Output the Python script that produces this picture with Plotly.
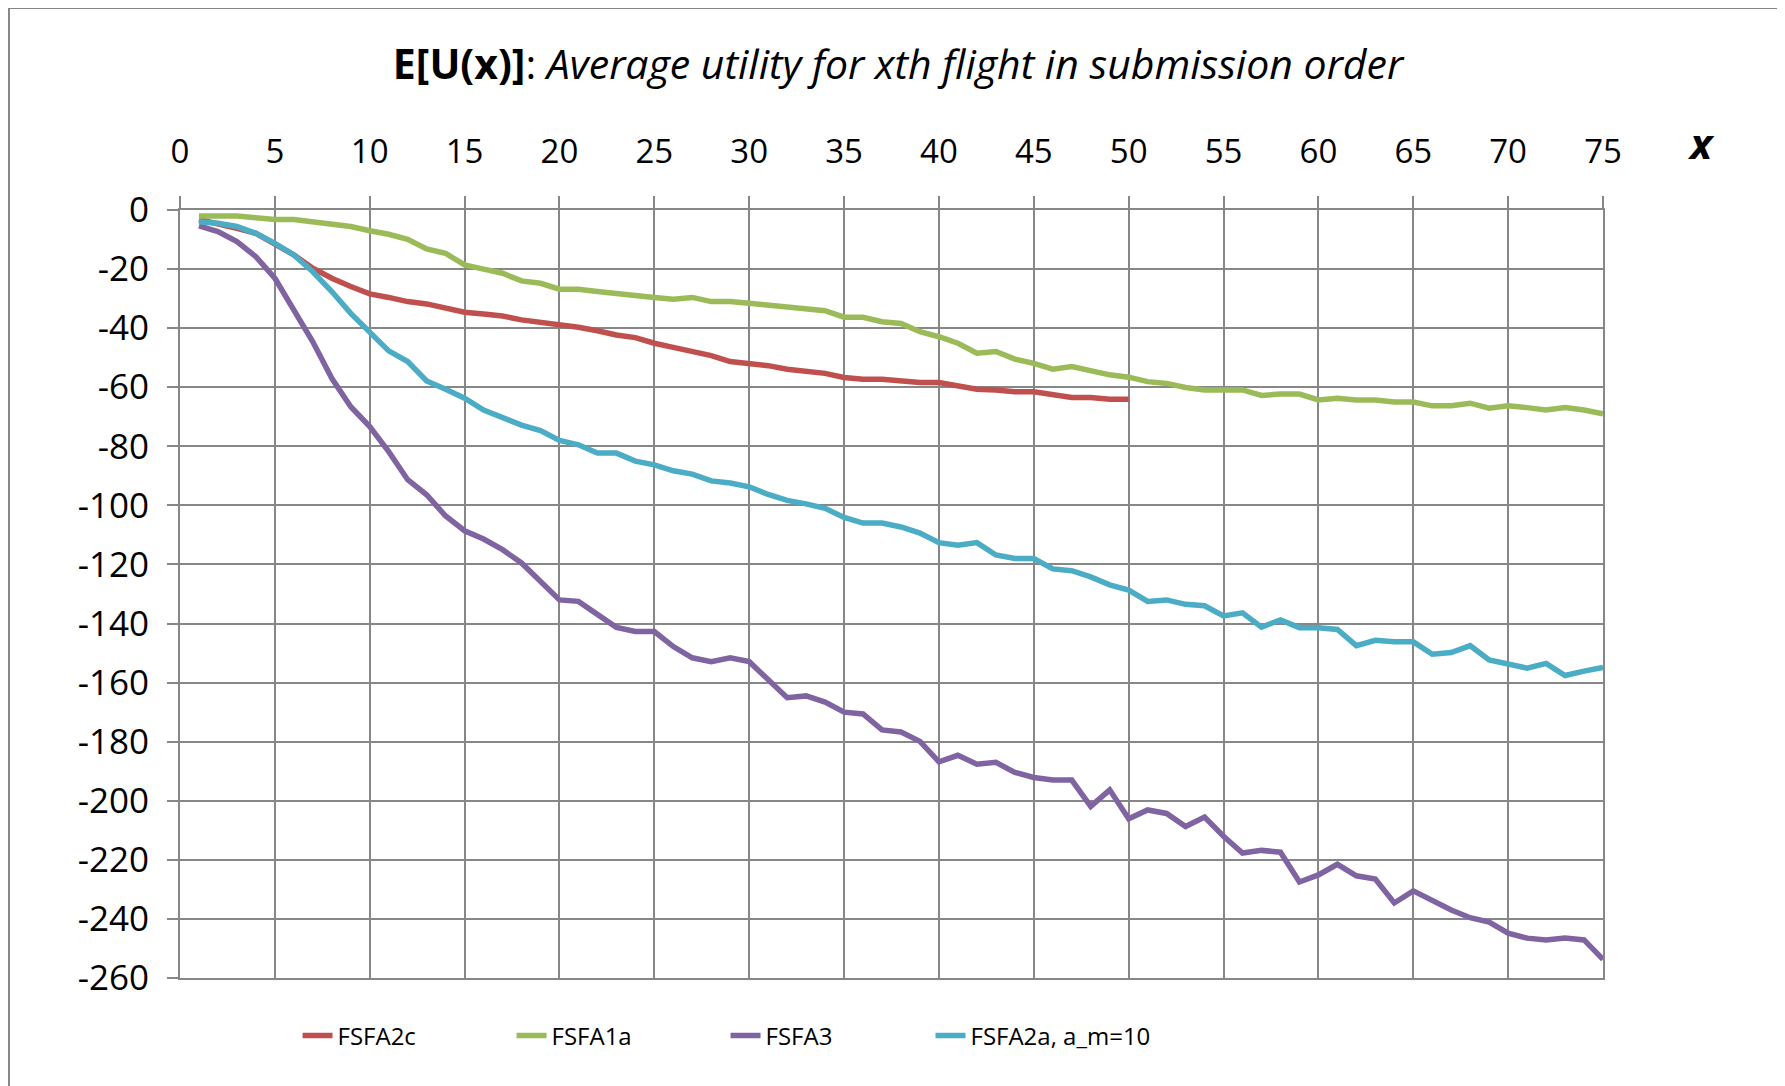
import plotly.graph_objects as go

# 提交順序 x = 1..75
x_all = list(range(1, 76))
x_2c = list(range(1, 51))

x_ticks = list(range(0, 80, 5))
y_ticks = list(range(0, -280, -20))
y_labels = ["0", "-20", "-40", "-60", "-80", "-100", "-120", "-140",
            "-160", "-180", "-200", "-220", "-240", "-260"]

fsfa2c = [-3.2, -4.5, -6.2, -7.9, -11.3, -15.2, -19.7, -23.1, -25.9, -28.4,
          -29.6, -31.0, -31.8, -33.3, -34.6, -35.2, -35.9, -37.2, -38.0, -39.1,
          -39.7, -40.9, -42.3, -43.2, -45.1, -46.5, -47.7, -49.3, -51.3, -51.9,
          -52.7, -53.9, -54.7, -55.3, -56.7, -57.3, -57.3, -57.9, -58.4, -58.4,
          -59.4, -60.7, -60.9, -61.5, -61.5, -62.3, -63.5, -63.5, -64.1, -64.1]

fsfa1a = [-2.0, -2.0, -2.0, -2.6, -3.2, -3.2, -4.0, -4.5, -5.6, -7.0,
          -8.2, -9.9, -13.2, -14.7, -18.6, -20.0, -21.4, -24.0, -24.8, -26.8,
          -26.8, -27.6, -28.4, -29.1, -29.6, -30.2, -29.6, -31.0, -31.0, -31.6,
          -32.3, -32.7, -33.3, -34.1, -36.3, -36.3, -37.8, -38.4, -41.2, -42.9,
          -45.1, -48.5, -47.9, -50.5, -51.9, -53.9, -53.0, -54.4, -55.8, -56.6,
          -58.1, -58.7, -60.1, -60.9, -60.9, -60.9, -62.8, -62.3, -62.3, -64.3,
          -63.7, -64.3, -64.3, -65.0, -65.0, -66.3, -66.3, -65.4, -67.1, -66.3,
          -66.9, -67.7, -66.9, -67.7, -69.0]

fsfa3 = [-5.4, -7.3, -10.7, -15.8, -23.1, -33.8, -44.6, -57.0, -66.6, -73.3,
         -81.8, -91.3, -96.4, -103.6, -108.6, -111.4, -115.0, -119.5, -125.7, -132.0,
         -132.5, -137.1, -141.3, -142.7, -142.7, -147.8, -151.6, -152.9, -151.6, -152.9,
         -158.9, -165.1, -164.5, -166.6, -170.0, -170.6, -176.0, -176.7, -179.9, -186.8,
         -184.6, -187.6, -187.0, -190.4, -192.1, -193.0, -193.0, -201.9, -196.3, -206.1,
         -203.1, -204.3, -208.7, -205.5, -212.0, -217.7, -216.8, -217.4, -227.5, -225.1,
         -221.5, -225.4, -226.5, -234.6, -230.5, -234.0, -237.0, -239.6, -241.1, -244.8,
         -246.5, -247.1, -246.5, -247.1, -253.7]

fsfa2a = [-4.0, -4.5, -5.6, -7.9, -11.3, -15.2, -20.9, -27.6, -35.0, -41.2,
          -47.7, -51.3, -57.9, -60.7, -63.7, -67.7, -70.3, -72.8, -74.7, -78.0,
          -79.5, -82.3, -82.3, -85.0, -86.3, -88.3, -89.4, -91.7, -92.4, -93.7,
          -96.3, -98.3, -99.5, -101.0, -104.1, -106.0, -106.0, -107.3, -109.4, -112.6,
          -113.5, -112.6, -116.8, -118.0, -118.0, -121.5, -122.1, -124.2, -126.9, -128.7,
          -132.5, -132.0, -133.5, -134.0, -137.4, -136.4, -141.2, -138.8, -141.4, -141.4,
          -142.0, -147.5, -145.7, -146.2, -146.2, -150.4, -149.8, -147.5, -152.3, -153.9,
          -155.1, -153.5, -157.6, -156.1, -154.9]

series = [
    ("FSFA2c", x_2c, fsfa2c, "#C0504D", "legend"),
    ("FSFA1a", x_all, fsfa1a, "#9BBB59", "legend"),
    ("FSFA3", x_all, fsfa3, "#8064A2", "legend"),
    ("FSFA2a, a_m=10", x_all, fsfa2a, "#4BACC6", "legend2"),
]

FONT = "Open Sans"
GRID = "#878787"

fig = go.Figure()
for name, xs, ys, color, lg in series:
    fig.add_trace(go.Scatter(
        x=xs, y=ys, mode="lines", name=name, legend=lg,
        line=dict(color=color, width=5.5),
    ))

legend_style = dict(
    orientation="h", y=-0.0755, xanchor="left", yanchor="middle",
    font=dict(family=FONT, size=24, color="black"),
    itemwidth=30, bgcolor="rgba(0,0,0,0)",
)

fig.update_layout(
    width=1785, height=1086,
    margin=dict(l=172, r=190, t=202, b=116),
    paper_bgcolor="white", plot_bgcolor="white",
    font=dict(family=FONT, color="black"),
    title=dict(
        text="<b>E[U(x)]</b>: <i>Average utility for xth flight in submission order</i>",
        x=890 / 1785, y=1 - 57 / 1086, xanchor="center", yanchor="middle",
        font=dict(family=FONT, size=41, color="black"),
    ),
    legend=dict(x=0.0826, entrywidth=169, **legend_style),
    legend2=dict(x=0.5274, **legend_style),
    showlegend=True,
)

fig.update_xaxes(
    range=[0, 75], tickvals=x_ticks, side="top",
    showgrid=True, gridcolor=GRID, gridwidth=1.8,
    showline=True, linecolor=GRID, linewidth=2, mirror=True,
    ticks="outside", ticklen=12, tickwidth=2, tickcolor=GRID,
    ticklabelstandoff=20,
    tickfont=dict(family=FONT, size=33, color="black"),
    zeroline=False,
)
fig.update_yaxes(
    range=[-260, 0], tickvals=y_ticks, ticktext=y_labels,
    showgrid=True, gridcolor=GRID, gridwidth=1.8,
    showline=True, linecolor=GRID, linewidth=2, mirror=True,
    ticks="outside", ticklen=11, tickwidth=2, tickcolor=GRID,
    ticklabelstandoff=11,
    tickfont=dict(family=FONT, size=35, color="black"),
    zeroline=False,
)

# x 軸標籤
fig.add_annotation(
    text="<b><i>x</i></b>", xref="paper", yref="paper",
    x=1.0689, y=1.0885, xanchor="center", yanchor="middle", showarrow=False,
    font=dict(family=FONT, size=42, color="black"),
)

# 外框
fig.add_shape(
    type="rect", xref="paper", yref="paper",
    x0=-0.1202, x1=1.3, y0=-0.3, y1=1.263,
    line=dict(color="#868686", width=2), layer="below",
)

fig.write_html("out.html")
